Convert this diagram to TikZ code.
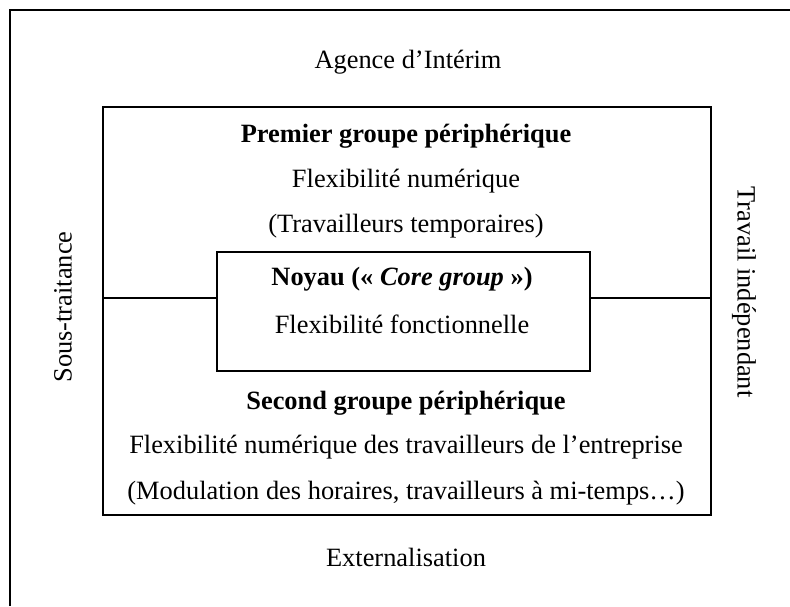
\documentclass[tikz,border=0pt]{standalone}
\usepackage{fontspec}
\setmainfont{Liberation Serif}
\begin{document}
\begin{tikzpicture}[x=0.5pt,y=-0.5pt,
  every node/.style={font=\fontsize{13.2}{16}\selectfont, inner sep=0pt},
  frame/.style={draw, line width=0.9pt},
  lbl/.style={anchor=center}]
\useasboundingbox (0,0) rectangle (790,606);
\coordinate (otl) at (10,10);
\coordinate (obl) at (10,606);
\coordinate (otr) at (790,10);
\draw[frame] (obl) -- (otl) -- (otr);
\node[frame, minimum width=304pt, minimum height=204pt, anchor=north west] (mid) at (102,106) {};
\node[frame, fill=white, minimum width=186.5pt, minimum height=59.5pt, anchor=north west] (core) at (216,251) {};
\coordinate (cl) at (core.west |- 0,298);
\coordinate (cr) at (core.east |- 0,298);
\coordinate (ml) at (mid.west |- 0,298);
\coordinate (mr) at (mid.east |- 0,298);
\draw[frame] (ml) -- (cl);
\draw[frame] (cr) -- (mr);
\node[lbl] (ag) at (408,62) {Agence d’Intérim};
\node[lbl] (p1) at (406,136) {\textbf{Premier groupe périphérique}};
\node[lbl] (p2) at (406,181) {Flexibilité numérique};
\node[lbl] (p3) at (406,226) {(Travailleurs temporaires)};
\node[lbl] (n1) at (402,279) {\textbf{Noyau («~\textit{Core group}~»)}};
\node[lbl] (n2) at (402,324) {Flexibilité fonctionnelle};
\node[lbl] (s1) at (406,403) {\textbf{Second groupe périphérique}};
\node[lbl] (s2) at (406,447) {Flexibilité numérique des travailleurs de l’entreprise};
\node[lbl] (s3) at (406,493) {(Modulation des horaires, travailleurs à mi-temps…)};
\node[lbl] (ex) at (406,557) {Externalisation};
\node[lbl, rotate=90] (st) at (63,307) {Sous-traitance};
\node[lbl, rotate=-90] (ti) at (744,292) {Travail indépendant};
\end{tikzpicture}
\end{document}
